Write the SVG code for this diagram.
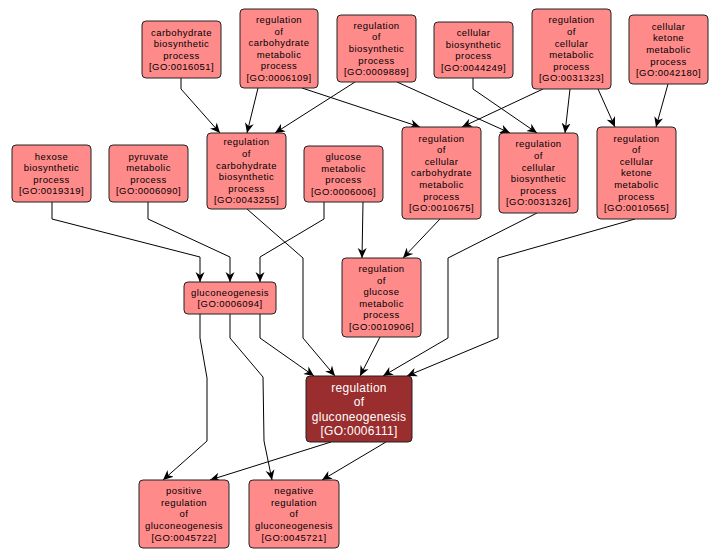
<svg xmlns="http://www.w3.org/2000/svg" width="721" height="558" viewBox="0 0 721 558">
<defs>
<marker id="arr" viewBox="0 0 10 10" refX="10" refY="5" markerWidth="10" markerHeight="10" orient="auto" markerUnits="userSpaceOnUse">
<path d="M0,0.5 L10,5 L0,9.5 L3,5 z" fill="#000"/>
</marker>
<style>
.n rect{fill:#FF8A8A;stroke:#222;stroke-width:1}
.n text{font-family:"Liberation Sans",Arial,sans-serif;font-size:9.5px;letter-spacing:0.45px;fill:#000;text-anchor:middle}
.m rect{fill:#9A2D2D;stroke:#222;stroke-width:1}
.m text{font-family:"Liberation Sans",Arial,sans-serif;font-size:12px;letter-spacing:0.3px;fill:#fff;text-anchor:middle}
.e polyline{fill:none;stroke:#000;stroke-width:1;marker-end:url(#arr)}
</style>
</defs>
<rect width="721" height="558" fill="#fff"/>
<g id="edges" class="e">
<polyline points="181,78 181,89 220,133"/>
<polyline points="258,88 247,133"/>
<polyline points="302,88 420,127"/>
<polyline points="355,82 275,133"/>
<polyline points="397,82 510,133"/>
<polyline points="473,78 473,89 537,133"/>
<polyline points="543,89 462,127"/>
<polyline points="570,89 565,133"/>
<polyline points="598,89 615,127"/>
<polyline points="668,84 656,127"/>
<polyline points="52,202 52,219 200,257 200,282"/>
<polyline points="148,202 148,219 230,257 230,282"/>
<polyline points="324,202 324,219 260,257 260,282"/>
<polyline points="363,202 362,258"/>
<polyline points="440,219 403,258"/>
<polyline points="247,209 303,258 303,338 335,376"/>
<polyline points="260,314 260,338 314,376"/>
<polyline points="380,337 360,376"/>
<polyline points="537,213 448,258 448,338 383,376"/>
<polyline points="635,219 498,258 498,338 407,376"/>
<polyline points="200,314 200,338 207,378 207,441 163,480"/>
<polyline points="230,314 230,338 263,377 264,441 272,480"/>
<polyline points="331,442 210,480"/>
<polyline points="386,442 322,480"/>
</g>
<g id="GO0016051" class="n"><rect x="142" y="21" width="79" height="57" rx="4"/><text y="35.5"><tspan x="181.5">carbohydrate</tspan><tspan x="181.5" dy="11.6">biosynthetic</tspan><tspan x="181.5" dy="11.6">process</tspan><tspan x="181.5" dy="11.6">[GO:0016051]</tspan></text></g>
<g id="GO0006109" class="n"><rect x="240" y="9" width="78" height="79" rx="4"/><text y="22.9"><tspan x="279">regulation</tspan><tspan x="279" dy="11.6">of</tspan><tspan x="279" dy="11.6">carbohydrate</tspan><tspan x="279" dy="11.6">metabolic</tspan><tspan x="279" dy="11.6">process</tspan><tspan x="279" dy="11.6">[GO:0006109]</tspan></text></g>
<g id="GO0009889" class="n"><rect x="337" y="15" width="79" height="67" rx="4"/><text y="28.7"><tspan x="376.5">regulation</tspan><tspan x="376.5" dy="11.6">of</tspan><tspan x="376.5" dy="11.6">biosynthetic</tspan><tspan x="376.5" dy="11.6">process</tspan><tspan x="376.5" dy="11.6">[GO:0009889]</tspan></text></g>
<g id="GO0044249" class="n"><rect x="434" y="22" width="79" height="56" rx="4"/><text y="36"><tspan x="473.5">cellular</tspan><tspan x="473.5" dy="11.6">biosynthetic</tspan><tspan x="473.5" dy="11.6">process</tspan><tspan x="473.5" dy="11.6">[GO:0044249]</tspan></text></g>
<g id="GO0031323" class="n"><rect x="532" y="9" width="79" height="80" rx="4"/><text y="23.4"><tspan x="571.5">regulation</tspan><tspan x="571.5" dy="11.6">of</tspan><tspan x="571.5" dy="11.6">cellular</tspan><tspan x="571.5" dy="11.6">metabolic</tspan><tspan x="571.5" dy="11.6">process</tspan><tspan x="571.5" dy="11.6">[GO:0031323]</tspan></text></g>
<g id="GO0042180" class="n"><rect x="629" y="15" width="79" height="69" rx="4"/><text y="29.7"><tspan x="668.5">cellular</tspan><tspan x="668.5" dy="11.6">ketone</tspan><tspan x="668.5" dy="11.6">metabolic</tspan><tspan x="668.5" dy="11.6">process</tspan><tspan x="668.5" dy="11.6">[GO:0042180]</tspan></text></g>
<g id="GO0019319" class="n"><rect x="12" y="145" width="79" height="57" rx="4"/><text y="159.5"><tspan x="51.5">hexose</tspan><tspan x="51.5" dy="11.6">biosynthetic</tspan><tspan x="51.5" dy="11.6">process</tspan><tspan x="51.5" dy="11.6">[GO:0019319]</tspan></text></g>
<g id="GO0006090" class="n"><rect x="109" y="145" width="79" height="57" rx="4"/><text y="159.5"><tspan x="148.5">pyruvate</tspan><tspan x="148.5" dy="11.6">metabolic</tspan><tspan x="148.5" dy="11.6">process</tspan><tspan x="148.5" dy="11.6">[GO:0006090]</tspan></text></g>
<g id="GO0043255" class="n"><rect x="207" y="133" width="79" height="76" rx="4"/><text y="145.4"><tspan x="246.5">regulation</tspan><tspan x="246.5" dy="11.6">of</tspan><tspan x="246.5" dy="11.6">carbohydrate</tspan><tspan x="246.5" dy="11.6">biosynthetic</tspan><tspan x="246.5" dy="11.6">process</tspan><tspan x="246.5" dy="11.6">[GO:0043255]</tspan></text></g>
<g id="GO0006006" class="n"><rect x="304" y="146" width="79" height="56" rx="4"/><text y="160"><tspan x="343.5">glucose</tspan><tspan x="343.5" dy="11.6">metabolic</tspan><tspan x="343.5" dy="11.6">process</tspan><tspan x="343.5" dy="11.6">[GO:0006006]</tspan></text></g>
<g id="GO0010675" class="n"><rect x="402" y="127" width="79" height="92" rx="4"/><text y="141.6"><tspan x="441.5">regulation</tspan><tspan x="441.5" dy="11.6">of</tspan><tspan x="441.5" dy="11.6">cellular</tspan><tspan x="441.5" dy="11.6">carbohydrate</tspan><tspan x="441.5" dy="11.6">metabolic</tspan><tspan x="441.5" dy="11.6">process</tspan><tspan x="441.5" dy="11.6">[GO:0010675]</tspan></text></g>
<g id="GO0031326" class="n"><rect x="499" y="133" width="79" height="80" rx="4"/><text y="147.4"><tspan x="538.5">regulation</tspan><tspan x="538.5" dy="11.6">of</tspan><tspan x="538.5" dy="11.6">cellular</tspan><tspan x="538.5" dy="11.6">biosynthetic</tspan><tspan x="538.5" dy="11.6">process</tspan><tspan x="538.5" dy="11.6">[GO:0031326]</tspan></text></g>
<g id="GO0010565" class="n"><rect x="597" y="127" width="79" height="92" rx="4"/><text y="141.6"><tspan x="636.5">regulation</tspan><tspan x="636.5" dy="11.6">of</tspan><tspan x="636.5" dy="11.6">cellular</tspan><tspan x="636.5" dy="11.6">ketone</tspan><tspan x="636.5" dy="11.6">metabolic</tspan><tspan x="636.5" dy="11.6">process</tspan><tspan x="636.5" dy="11.6">[GO:0010565]</tspan></text></g>
<g id="GO0006094" class="n"><rect x="184" y="282" width="92" height="32" rx="4"/><text y="295.6"><tspan x="230">gluconeogenesis</tspan><tspan x="230" dy="11.6">[GO:0006094]</tspan></text></g>
<g id="GO0010906" class="n"><rect x="342" y="258" width="79" height="79" rx="4"/><text y="271.9"><tspan x="381.5">regulation</tspan><tspan x="381.5" dy="11.6">of</tspan><tspan x="381.5" dy="11.6">glucose</tspan><tspan x="381.5" dy="11.6">metabolic</tspan><tspan x="381.5" dy="11.6">process</tspan><tspan x="381.5" dy="11.6">[GO:0010906]</tspan></text></g>
<g id="GO0006111" class="m"><rect x="306" y="376" width="106" height="66" rx="4"/><text y="391.5"><tspan x="359">regulation</tspan><tspan x="359" dy="14.5">of</tspan><tspan x="359" dy="14.5">gluconeogenesis</tspan><tspan x="359" dy="14.5">[GO:0006111]</tspan></text></g>
<g id="GO0045722" class="n"><rect x="139" y="480" width="90" height="68" rx="4"/><text y="494.2"><tspan x="184">positive</tspan><tspan x="184" dy="11.6">regulation</tspan><tspan x="184" dy="11.6">of</tspan><tspan x="184" dy="11.6">gluconeogenesis</tspan><tspan x="184" dy="11.6">[GO:0045722]</tspan></text></g>
<g id="GO0045721" class="n"><rect x="249" y="480" width="90" height="68" rx="4"/><text y="494.2"><tspan x="294">negative</tspan><tspan x="294" dy="11.6">regulation</tspan><tspan x="294" dy="11.6">of</tspan><tspan x="294" dy="11.6">gluconeogenesis</tspan><tspan x="294" dy="11.6">[GO:0045721]</tspan></text></g>
</svg>
